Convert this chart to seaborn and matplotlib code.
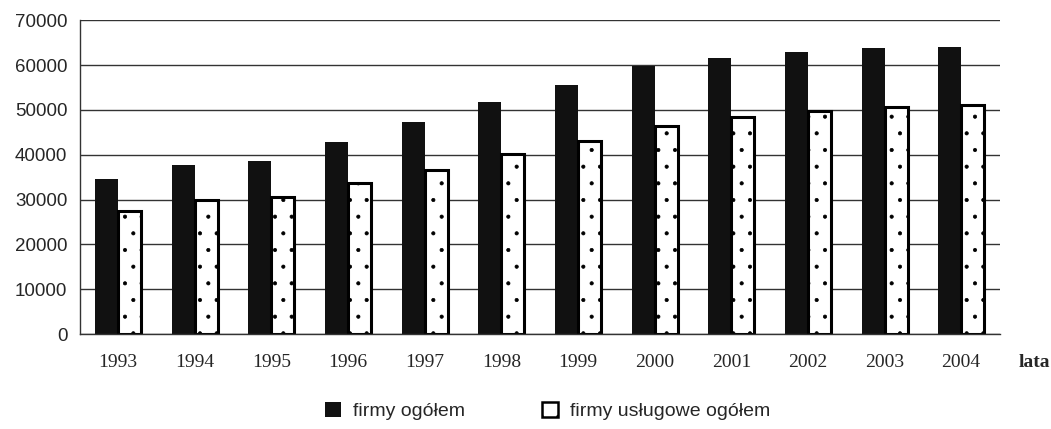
import pandas as pd
import numpy as np
import matplotlib.pyplot as plt
import seaborn as sns

# Data
years = ['1993', '1994', '1995', '1996', '1997', '1998',
         '1999', '2000', '2001', '2002', '2003', '2004']
firmy_ogolem = [34600, 37800, 38500, 42900, 47200, 51700,
                55500, 59700, 61600, 62800, 63700, 64000]
firmy_uslugowe = [27400, 29900, 30500, 33800, 36700, 40200,
                  43100, 46500, 48400, 49800, 50700, 51200]
series_names = ['firmy ogółem', 'firmy usługowe ogółem']

df = pd.DataFrame({
    'rok': years * 2,
    'liczba': firmy_ogolem + firmy_uslugowe,
    'seria': [series_names[0]] * len(years) + [series_names[1]] * len(years),
})

sns.set_style("white")
plt.rcParams['hatch.linewidth'] = 0.5

serif = ['Liberation Serif', 'DejaVu Serif']
sans = ['Liberation Sans Narrow', 'Liberation Sans', 'DejaVu Sans']

fig = plt.figure(figsize=(10.51, 4.29), dpi=100)
ax = fig.add_axes([0.076, 0.221, 0.875, 0.732])

sns.barplot(data=df, x='rok', y='liczba', hue='seria', order=years,
            hue_order=series_names, palette=['black', 'white'],
            width=0.6, gap=0, edgecolor='black', linewidth=0, ax=ax,
            legend=True)

# style bars: second series white with dotted hatch and thick border
n = len(years)
for i, bar in enumerate(ax.patches[:2 * n]):
    if i >= n:
        bar.set_facecolor('white')
        bar.set_hatch('.')
        bar.set_edgecolor('black')
        bar.set_linewidth(2.2)
    else:
        bar.set_facecolor('#111111')
        bar.set_edgecolor('#111111')

ax.set_ylim(0, 70000)
ax.set_yticks(np.arange(0, 70001, 10000))
ax.set_yticklabels([str(v) for v in range(0, 70001, 10000)],
                   fontfamily=sans, fontsize=13.5)
ax.yaxis.grid(True, color='#333333', linewidth=1.0)
ax.set_axisbelow(True)
ax.set_xlim(-0.5, n - 0.5)

for s in ['top', 'right']:
    ax.spines[s].set_visible(False)
for s in ['left', 'bottom']:
    ax.spines[s].set_color('#333333')
    ax.spines[s].set_linewidth(1.0)

ax.set_xlabel('')
ax.set_ylabel('')

# tick marks between categories on x
ax.set_xticks(range(n))
ax.set_xticklabels(years, fontfamily=serif, fontsize=14)
ax.set_xticks(np.arange(-0.5, n, 1.0), minor=True)
ax.tick_params(axis='x', which='major', length=0, pad=14)
ax.tick_params(axis='x', which='minor', length=5, direction='out', color='#333333')
ax.tick_params(axis='y', length=5, direction='out', color='#333333', pad=4)

ax.text(1.0 + 35 / 920, -0.063, 'lata', transform=ax.transAxes,
        fontfamily=serif, fontweight='bold',
        fontsize=14, ha='center', va='top')

# legend at the bottom
handles, labels = ax.get_legend_handles_labels()
ax.get_legend().remove()
handles[0].set_facecolor('#111111')
handles[0].set_edgecolor('#111111')
handles[1].set_facecolor('white')
handles[1].set_hatch('.')
handles[1].set_edgecolor('black')
handles[1].set_linewidth(1.8)
fig.legend(handles, labels, loc='center', bbox_to_anchor=(0.521, 0.042),
           ncol=2, frameon=False, handlelength=0.8, handleheight=0.8,
           columnspacing=4.0, handletextpad=0.6,
           prop={'family': sans, 'size': 14})

plt.savefig('out.png', dpi=100)
